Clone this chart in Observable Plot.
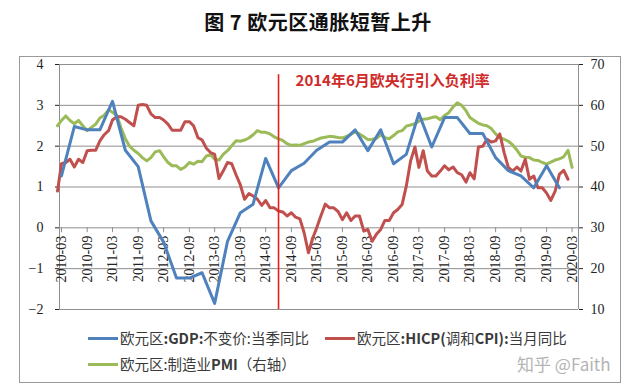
<!DOCTYPE html>
<html><head><meta charset="utf-8">
<script src="https://cdn.jsdelivr.net/npm/d3@7"></script>
<script src="https://cdn.jsdelivr.net/npm/@observablehq/plot@0.6"></script>
<style>
body{margin:0;background:#fff;}
#wrap{position:relative;width:640px;height:389px;overflow:hidden;font-family:"Noto Sans CJK SC",sans-serif;}
#title{position:absolute;left:0;top:8px;width:636px;text-align:center;font-size:20px;font-weight:bold;letter-spacing:0.5px;color:#111;line-height:28px;}
#box{position:absolute;left:19px;top:56px;width:600px;height:325px;border:1px solid #9a9a9a;z-index:2;pointer-events:none;}
#chart{position:absolute;left:0;top:0;z-index:1;}
.leg{position:absolute;font-size:14.5px;color:#3a3a3a;white-space:nowrap;line-height:20px;z-index:3;}
.leg b{font-weight:bold;}
.sw{position:absolute;height:3px;width:30px;z-index:3;}
#wm{position:absolute;left:517px;top:353px;font-size:17px;color:#b4b4b4;white-space:nowrap;line-height:22px;z-index:3;}
</style></head><body>
<div id="wrap">
  <div id="title"></div>
  <div id="chart"></div>
  <div id="box"></div>
  <div id="legend"></div>
  <div id="wm"></div>
</div>
<script>
const titleText = "图 7 欧元区通胀短暂上升";
const seriesNames = ["欧元区:GDP:不变价:当季同比", "欧元区:HICP(调和CPI):当月同比", "欧元区:制造业PMI（右轴）"];
const seriesColors = ["#4F81BD", "#C0504D", "#9BBB59"];
const watermark = "知乎 @Faith";

// GDP, quarterly, starting 2010-03
const gdpStart = "2010-03";
const gdpValues = [1.27, 2.48, 2.4, 2.4,
  3.1, 1.9, 1.5, 0.17,
  -0.35, -1.23, -1.23, -1.1,
  -1.85, -0.33, 0.37, 0.58,
  1.7, 0.98, 1.4, 1.58,
  1.9, 2.1, 2.1, 2.4,
  1.89, 2.4, 1.57, 1.8,
  2.8, 1.98, 2.7, 2.7,
  2.31, 2.31, 1.72, 1.4,
  1.27, 0.98, 1.52, 0.98];

// HICP, monthly, starting 2010-02
const hicpStart = "2010-02";
const hicpValues = [0.9,1.57,1.6,1.68,1.49,1.68,1.6,1.89,1.9,1.9,
  2.13,2.28,2.38,2.64,2.72,2.72,2.66,2.58,2.5,3.0,
  3.02,3.0,2.79,2.7,2.7,2.64,2.54,2.39,2.39,2.39,
  2.6,2.6,2.5,2.21,2.15,1.95,1.84,1.8,1.21,1.39,
  1.6,1.57,1.3,1.05,0.7,0.84,0.78,0.7,0.55,0.67,
  0.49,0.49,0.41,0.39,0.29,0.37,0.26,0.22,-0.12,-0.61,
  -0.25,0.0,0.3,0.58,0.49,0.49,0.4,0.2,0.37,0.18,
  0.29,0.29,-0.08,-0.04,-0.33,-0.16,-0.04,0.18,0.18,0.37,
  0.45,0.57,1.02,1.64,1.98,1.48,1.89,1.39,1.27,1.27,
  1.39,1.52,1.42,1.49,1.35,1.3,1.12,1.35,1.2,1.98,
  2.0,2.17,2.1,2.13,2.3,1.84,1.48,1.39,1.49,1.39,
  1.68,1.19,1.27,0.98,0.98,0.85,0.67,0.9,1.31,1.41,
  1.19];

// Manufacturing PMI (right axis), monthly, starting 2010-02
const pmiStart = "2010-02";
const pmiValues = [55.0,56.3,57.4,56.3,55.5,56.3,55.0,53.8,54.6,55.4,
  56.9,57.6,58.9,58.3,57.5,54.5,51.8,50.0,49.0,48.2,
  47.2,46.4,47.2,48.6,48.9,47.4,46.0,45.2,45.2,44.3,
  44.9,46.0,45.6,46.3,46.2,47.6,47.9,46.8,46.6,48.0,
  48.9,50.1,51.3,51.2,51.5,52.0,52.8,53.8,53.4,53.4,
  53.0,52.3,51.8,51.4,50.6,50.2,50.3,50.2,50.6,51.0,
  51.2,51.6,52.0,52.2,52.4,52.3,52.1,52.0,52.4,52.9,
  53.5,53.0,52.3,51.6,51.7,51.9,52.8,52.1,51.8,52.6,
  53.5,53.8,54.9,55.2,55.5,56.1,56.6,56.7,57.0,57.2,
  56.5,57.5,58.2,59.6,60.6,60.0,58.7,57.0,56.3,55.6,
  55.2,55.0,54.3,53.0,52.1,51.7,51.2,50.3,49.0,47.6,
  47.3,47.2,46.6,46.5,46.0,45.6,46.1,46.6,46.9,47.4,
  49.0,44.8];

const leftTicks = [-2, -1, 0, 1, 2, 3, 4];
const rightTicks = [10, 20, 30, 40, 50, 60, 70];
const xTickLabels = ["2010-03","2010-09","2011-03","2011-09","2012-03","2012-09","2013-03","2013-09",
  "2014-03","2014-09","2015-03","2015-09","2016-03","2016-09","2017-03","2017-09","2018-03","2018-09",
  "2019-03","2019-09","2020-03"];
const eventMonth = "2014-06";
const eventLabel = "2014年6月欧央行引入负利率";

const parse = d3.utcParse("%Y-%m");
const monthly = (start, vals, step) => vals.map((v, i) => ({date: d3.utcMonth.offset(parse(start), i * step), v}));
const toLeft = d3.scaleLinear().domain([rightTicks[0], rightTicks[rightTicks.length - 1]]).range([leftTicks[0], leftTicks[leftTicks.length - 1]]);

const gdp = monthly(gdpStart, gdpValues, 3);
const hicp = monthly(hicpStart, hicpValues, 1);
const pmi = monthly(pmiStart, pmiValues, 1).map(d => ({date: d.date, v: toLeft(d.v)}));
const xTickDates = xTickLabels.map(parse);
const eventDate = parse(eventMonth);

const x0 = new Date(Date.UTC(2010, 1, 15)), x1 = new Date(Date.UTC(2020, 3, 16));
const grid = "#8e8e8e";

const chart = Plot.plot({
  width: 640, height: 389,
  marginTop: 64, marginBottom: 80, marginLeft: 59, marginRight: 62,
  style: {background: "transparent", fontFamily: "'Liberation Serif', serif", fontSize: "14px", color: "#222"},
  x: {type: "utc", domain: [x0, x1], axis: null},
  y: {domain: [leftTicks[0], leftTicks[leftTicks.length - 1]], axis: null},
  marks: [
    Plot.ruleY(leftTicks, {stroke: grid, strokeWidth: 1}),
    Plot.ruleX([x0, x1], {stroke: grid, strokeWidth: 1}),
    Plot.axisY(leftTicks, {anchor: "left", tickSize: 4, tickPadding: 12, label: null, fontSize: 14}),
    Plot.axisY(rightTicks.map(toLeft), {anchor: "right", tickSize: 4, tickPadding: 8, label: null, fontSize: 14,
      tickFormat: d => String(Math.round(toLeft.invert(d)))}),
    Plot.ruleX(xTickDates, {y1: 0, y2: -0.12, stroke: grid}),
    Plot.text(xTickDates, {x: d => d, y: 0, text: (d, i) => xTickLabels[i], rotate: -90, textAnchor: "end", dy: 8, fontSize: 14, fill: "#222"}),
    Plot.line(pmi, {x: "date", y: "v", stroke: seriesColors[2], strokeWidth: 3}),
    Plot.line(hicp, {x: "date", y: "v", stroke: seriesColors[1], strokeWidth: 3}),
    Plot.line(gdp, {x: "date", y: "v", stroke: seriesColors[0], strokeWidth: 3}),
    Plot.ruleX([eventDate], {y1: leftTicks[0], y2: 3.75, stroke: "#e3201b", strokeWidth: 1.6}),
    Plot.text([eventLabel], {x: eventDate, y: 3.58, dx: 17, text: d => d, textAnchor: "start", fill: "#cf2b2b",
      fontWeight: "bold", fontSize: 15, fontFamily: "'Noto Sans CJK SC', sans-serif"})
  ]
});
document.getElementById("chart").appendChild(chart);
document.getElementById("title").textContent = titleText;
document.getElementById("wm").textContent = watermark;

// legend
const legPos = [{sx: 88, tx: 120, y: 338}, {sx: 325, tx: 357, y: 338}, {sx: 88, tx: 120, y: 364}];
const legend = document.getElementById("legend");
seriesNames.forEach((name, i) => {
  const p = legPos[i];
  const sw = document.createElement("div");
  sw.className = "sw";
  sw.style.left = p.sx + "px"; sw.style.top = (p.y - 1) + "px"; sw.style.background = seriesColors[i];
  legend.appendChild(sw);
  const t = document.createElement("div");
  t.className = "leg";
  t.style.left = p.tx + "px"; t.style.top = (p.y - 10) + "px";
  t.innerHTML = name.replace(/([A-Za-z():]+)/g, m => /[A-Za-z]/.test(m) ? "<b>" + m + "</b>" : m);
  legend.appendChild(t);
});
</script>
</body></html>
